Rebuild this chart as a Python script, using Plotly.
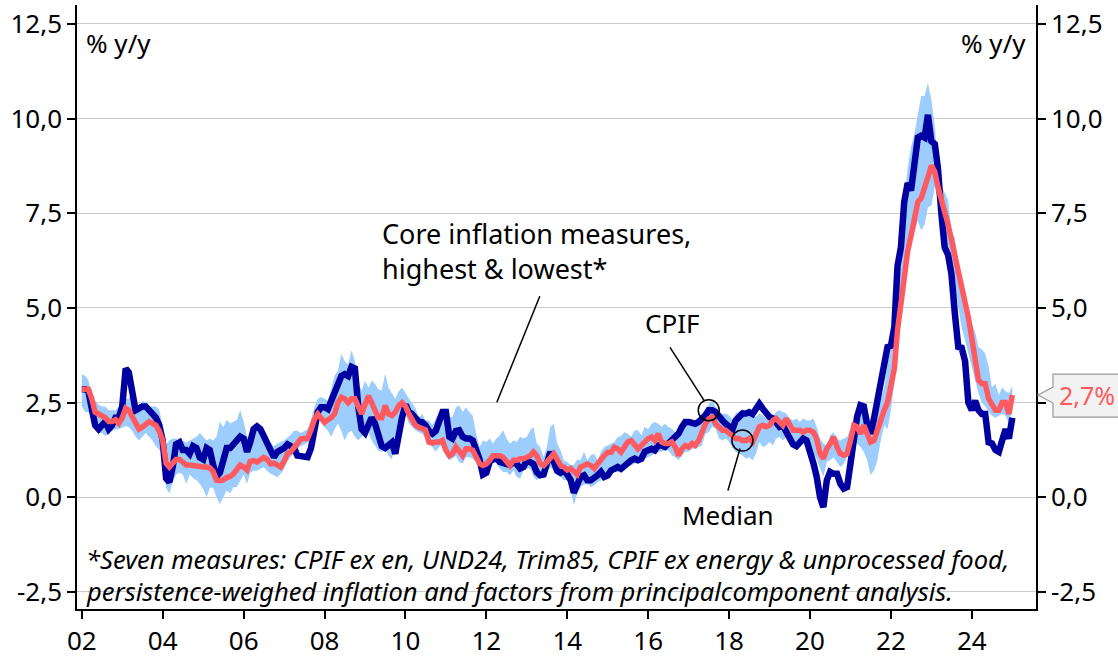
import pandas as pd
import plotly.graph_objects as go

# ---------------- data (monthly, Jan 2002 - Jan 2025, % y/y) ----------------
START = "2002-01-01"

CPIF = [
    2.85, 2.85, 2.8, 2.4, 1.9, 1.8, 1.9, 2.0, 1.8, 1.9, 2.1, 2.1,          # 2002
    2.4, 3.4, 3.3, 2.7, 2.3, 2.35, 2.4, 2.4, 2.3, 2.2, 2.1, 1.9,           # 2003
    1.5, 0.5, 0.4, 0.8, 1.4, 1.45, 1.25, 1.25, 1.15, 1.35, 1.3, 1.05,      # 2004
    1.0, 1.3, 1.25, 0.85, 0.55, 0.65, 1.0, 1.3, 1.3, 1.4, 1.45, 1.6,       # 2005
    1.55, 1.2, 1.45, 1.8, 1.87, 1.8, 1.62, 1.4, 1.2, 1.06, 1.2, 1.23,      # 2006
    1.3, 1.4, 1.35, 1.3, 1.1, 1.1, 1.1, 1.06, 1.3, 1.85, 2.25, 2.38,       # 2007
    2.38, 2.33, 2.55, 2.75, 3.0, 3.2, 3.25, 3.2, 3.44, 3.4, 2.4, 1.8,      # 2008
    1.7, 1.95, 2.1, 1.95, 1.7, 1.35, 1.3, 1.4, 1.45, 1.15, 1.7, 2.1,       # 2009
    2.45, 2.25, 2.2, 2.1, 2.0, 1.98, 1.9, 1.75, 1.68, 1.75, 2.0, 2.25,     # 2010
    2.25, 1.6, 1.55, 1.75, 1.77, 1.6, 1.55, 1.55, 1.5, 1.3, 1.0, 0.6,      # 2011
    0.65, 0.95, 1.0, 1.05, 0.93, 0.9, 0.85, 0.85, 0.93, 0.88, 0.76, 0.8,   # 2012
    0.98, 0.93, 0.88, 0.66, 0.58, 0.6, 0.88, 1.2, 0.95, 0.7, 0.65, 0.7,    # 2013
    0.6, 0.45, 0.12, 0.3, 0.54, 0.58, 0.45, 0.45, 0.5, 0.58, 0.67, 0.54,   # 2014
    0.58, 0.71, 0.75, 0.8, 0.75, 0.84, 0.89, 0.98, 1.02, 0.98, 1.02, 1.2,  # 2015
    1.24, 1.28, 1.24, 1.37, 1.37, 1.33, 1.42, 1.5, 1.55, 1.68, 1.86, 1.99, # 2016
    1.99, 1.94, 1.94, 1.99, 2.07, 2.16, 2.3, 2.3, 2.25, 2.12, 2.03, 1.94,  # 2017
    1.86, 1.8, 2.03, 2.1, 2.21, 2.21, 2.25, 2.2, 2.34, 2.47, 2.34, 2.2,    # 2018
    2.12, 2.08, 1.94, 1.86, 1.9, 1.74, 1.55, 1.4, 1.35, 1.45, 1.55, 1.5,   # 2019
    1.25, 0.9, 0.55, 0.0, -0.26, 0.45, 0.67, 0.62, 0.62, 0.36, 0.23, 0.27, # 2020
    0.89, 1.55, 2.12, 2.43, 2.4, 1.9, 1.68, 2.08, 2.56, 2.8, 3.3, 3.97,    # 2021
    4.0, 4.5, 6.1, 6.6, 7.8, 8.3, 8.1, 9.0, 9.5, 9.55, 9.5, 10.1,          # 2022
    9.4, 9.33, 8.7, 7.5, 6.6, 6.4, 5.9, 4.85, 3.97, 3.95, 3.6, 2.5,        # 2023
    2.3, 2.55, 2.3, 2.2, 2.2, 1.45, 1.42, 1.25, 1.2, 1.5, 1.8, 1.55,       # 2024
    2.1,                                                                   # 2025
]

MEDIAN = [
    2.85, 2.85, 2.85, 2.6, 2.25, 2.2, 2.15, 2.1, 2.0, 2.0, 2.05, 1.95,
    2.1, 2.35, 2.3, 2.15, 1.95, 1.8, 1.85, 1.95, 2.0, 1.95, 1.9, 1.75,
    1.5, 0.9, 0.8, 0.9, 1.0, 1.0, 0.9, 0.85, 0.85, 0.83, 0.83, 0.8,
    0.8, 0.8, 0.78, 0.68, 0.45, 0.44, 0.46, 0.52, 0.55, 0.62, 0.75, 0.85,
    0.8, 0.72, 0.95, 0.97, 0.93, 0.98, 1.05, 1.0, 0.88, 0.9, 0.84, 0.8,
    0.95, 1.15, 1.2, 1.32, 1.4, 1.54, 1.55, 1.55, 1.78, 2.05, 2.2, 2.1,
    1.98, 2.05, 2.1, 2.2, 2.5, 2.64, 2.6, 2.5, 2.6, 2.6, 2.35, 2.2,
    2.45, 2.68, 2.5, 2.3, 2.1, 2.1, 2.42, 2.2, 2.16, 2.25, 2.42, 2.5,
    2.4, 2.2, 2.03, 1.9, 1.85, 1.8, 1.78, 1.46, 1.43, 1.46, 1.46, 1.5,
    1.24, 1.1, 1.15, 1.33, 1.24, 1.1, 1.28, 1.28, 1.24, 1.06, 0.89, 0.84,
    0.88, 0.98, 1.1, 1.1, 1.1, 1.06, 0.93, 0.84, 0.98, 0.98, 1.02, 1.02,
    1.06, 1.1, 1.2, 1.1, 0.89, 0.84, 0.93, 1.02, 1.15, 1.0, 0.84, 0.8,
    0.72, 0.76, 0.7, 0.6, 0.8, 0.84, 0.88, 0.84, 0.76, 0.88, 1.02, 1.1,
    1.19, 1.19, 1.32, 1.28, 1.19, 1.32, 1.46, 1.5, 1.37, 1.28, 1.37, 1.46,
    1.55, 1.59, 1.5, 1.68, 1.46, 1.42, 1.42, 1.46, 1.33, 1.1, 1.28, 1.37,
    1.33, 1.42, 1.37, 1.5, 1.72, 1.94, 2.07, 2.12, 1.94, 1.86, 1.77, 1.77,
    1.68, 1.64, 1.55, 1.55, 1.5, 1.5, 1.55, 1.46, 1.68, 1.86, 1.9, 1.86,
    1.9, 2.03, 2.08, 1.99, 1.9, 2.08, 1.94, 1.77, 1.77, 1.77, 1.72, 1.77,
    1.77, 1.72, 1.55, 1.15, 1.02, 1.28, 1.42, 1.59, 1.33, 1.15, 1.11, 1.15,
    1.5, 1.9, 1.86, 1.68, 1.9, 1.68, 1.46, 1.5, 1.8, 2.1, 2.3, 2.5,
    2.9, 3.4, 4.4, 5.2, 6.0, 6.5, 6.9, 7.3, 7.8, 7.9, 8.15, 8.45,
    8.76, 8.6, 8.2, 7.9, 7.6, 7.2, 6.8, 6.4, 6.0, 5.6, 5.1, 4.75,
    4.2, 3.7, 3.1, 3.0, 3.0, 2.6, 2.45, 2.3, 2.3, 2.5, 2.5, 2.2,
    2.7,
]

CORE_HIGH = [
    3.25, 3.2, 3.1, 2.7, 2.55, 2.45, 2.4, 2.4, 2.3, 2.3, 2.3, 2.4,
    2.6, 2.6, 2.6, 2.8, 2.45, 2.4, 2.55, 2.5, 2.4, 2.4, 2.4, 2.3,
    1.9, 1.4, 1.5, 1.55, 1.55, 1.45, 1.5, 1.45, 1.5, 1.55, 1.6, 1.7,
    1.6, 1.5, 1.55, 1.5, 1.6, 2.0, 1.85, 2.05, 1.95, 2.0, 2.05, 2.3,
    2.0, 1.6, 1.6, 1.9, 1.9, 1.8, 1.7, 1.55, 1.45, 1.35, 1.42, 1.45,
    1.5, 1.58, 1.65, 1.76, 1.76, 1.7, 1.76, 1.8, 2.05, 2.38, 2.6, 2.65,
    2.6, 2.55, 2.85, 3.2, 3.35, 3.79, 3.6, 3.5, 3.88, 3.6, 3.0, 2.82,
    3.08, 2.9, 3.08, 3.0, 2.85, 2.82, 3.26, 2.9, 2.75, 2.6, 2.8, 2.9,
    2.75, 2.6, 2.5, 2.35, 2.1, 2.2, 2.03, 2.03, 1.9, 2.07, 2.25, 2.3,
    2.35, 2.12, 2.12, 2.38, 2.43, 2.25, 2.38, 2.25, 2.15, 1.68, 1.33, 1.5,
    1.46, 1.55, 1.42, 1.55, 1.64, 1.77, 1.55, 1.42, 1.5, 1.46, 1.6, 1.55,
    1.6, 1.77, 1.86, 1.42, 1.33, 1.06, 1.33, 1.86, 1.94, 1.42, 1.24, 0.98,
    0.93, 0.85, 0.85, 1.0, 0.98, 1.2, 0.98, 1.11, 1.15, 0.98, 1.2, 1.33,
    1.37, 1.42, 1.46, 1.59, 1.62, 1.72, 1.68, 1.6, 1.77, 1.77, 1.64, 1.86,
    1.8, 1.94, 1.99, 1.94, 1.86, 1.94, 1.86, 1.81, 1.72, 1.77, 1.99, 2.03,
    1.99, 2.08, 1.99, 2.12, 2.21, 2.34, 2.45, 2.56, 2.4, 2.25, 2.2, 2.21,
    2.16, 2.05, 2.21, 2.25, 2.34, 2.25, 2.3, 2.16, 2.12, 2.21, 2.16, 2.08,
    2.03, 2.12, 2.25, 2.3, 2.25, 2.21, 2.08, 2.03, 2.08, 1.99, 2.08, 2.03,
    2.03, 2.08, 1.86, 1.55, 1.42, 1.37, 1.64, 1.72, 1.55, 1.5, 1.55, 1.59,
    1.81, 1.94, 2.03, 2.21, 2.47, 2.3, 2.03, 2.12, 2.21, 2.6, 2.9, 3.5,
    4.0, 4.7, 6.3, 6.9, 7.9, 8.7, 9.24, 9.6, 10.1, 10.6, 10.6, 10.95,
    10.5, 9.8, 8.8, 8.2, 8.05, 7.85, 7.05, 6.85, 6.25, 5.75, 5.3, 4.95,
    4.6, 4.35, 3.97, 3.9, 3.8, 3.45, 2.9, 3.0, 2.7, 2.9, 2.8, 2.75,
    2.95,
]

CORE_LOW = [
    2.4, 2.25, 2.25, 2.1, 1.8, 1.7, 1.7, 1.62, 1.7, 1.75, 1.8, 1.8,
    1.85, 1.88, 1.85, 1.75, 1.6, 1.5, 1.6, 1.7, 1.6, 1.5, 1.35, 1.25,
    1.15, 0.25, 0.1, 0.4, 0.6, 0.65, 0.6, 0.35, 0.6, 0.5, 0.45, 0.35,
    0.22, 0.0, 0.25, 0.25, 0.0, -0.18, 0.0, 0.18, 0.1, 0.27, 0.27, 0.45,
    0.6, 0.35, 0.65, 0.7, 0.7, 0.75, 0.8, 0.7, 0.62, 0.58, 0.53, 0.62,
    0.75, 0.95, 1.06, 1.15, 1.28, 1.35, 1.4, 1.45, 1.6, 1.9, 2.0, 2.03,
    1.85, 1.76, 1.59, 1.8, 1.95, 1.76, 1.5, 1.7, 1.76, 1.6, 1.5, 1.6,
    1.65, 1.72, 1.5, 1.35, 1.23, 1.2, 1.3, 1.1, 1.0, 1.5, 1.76, 1.9,
    2.2, 1.95, 1.85, 1.77, 1.72, 1.68, 1.55, 1.42, 1.33, 1.2, 1.33, 1.37,
    1.1, 0.98, 1.02, 1.1, 0.93, 0.89, 1.06, 1.06, 1.02, 0.93, 0.76, 0.54,
    0.67, 0.71, 0.93, 0.89, 0.76, 0.67, 0.67, 0.58, 0.71, 0.54, 0.49, 0.71,
    0.76, 0.76, 0.54, 0.45, 0.54, 0.54, 0.67, 0.8, 0.71, 0.58, 0.54, 0.45,
    0.45, 0.2, -0.21, 0.1, 0.27, 0.34, 0.36, 0.27, 0.32, 0.4, 0.45, 0.54,
    0.52, 0.62, 0.67, 0.67, 0.71, 0.76, 0.84, 0.84, 0.89, 0.89, 0.93, 1.02,
    1.06, 1.11, 1.15, 1.2, 1.2, 1.24, 1.24, 1.11, 1.06, 0.98, 1.11, 1.2,
    1.2, 1.28, 1.28, 1.33, 1.37, 1.68, 1.72, 1.86, 1.81, 1.55, 1.5, 1.55,
    1.46, 1.3, 1.2, 1.15, 1.11, 1.02, 1.06, 0.98, 1.15, 1.46, 1.33, 1.37,
    1.46, 1.37, 1.55, 1.59, 1.5, 1.59, 1.55, 1.5, 1.33, 1.33, 1.42, 1.33,
    1.28, 1.15, 1.02, 0.76, 0.54, 0.93, 0.98, 1.06, 0.93, 0.8, 0.89, 1.06,
    1.33, 1.46, 1.42, 1.33, 1.2, 0.98, 0.58, 0.71, 0.98, 1.5, 1.9, 1.8,
    2.3, 3.0, 4.2, 4.9, 5.9, 6.3, 6.7, 7.0, 7.3, 7.05, 7.2, 7.66,
    7.7, 8.2, 7.9, 7.3, 6.6, 6.3, 6.0, 5.55, 5.0, 4.5, 4.15, 3.8,
    3.45, 3.1, 2.75, 2.5, 2.4, 2.25, 2.15, 2.1, 2.15, 2.2, 2.15, 1.95,
    2.3,
]

X_TICK_YEARS = [2002, 2004, 2006, 2008, 2010, 2012, 2014, 2016, 2018, 2020, 2022, 2024]
X_TICK_LABELS = ["02", "04", "06", "08", "10", "12", "14", "16", "18", "20", "22", "24"]
Y_TICKS = [-2.5, 0.0, 2.5, 5.0, 7.5, 10.0, 12.5]
Y_TICK_LABELS = ["-2,5", "0,0", "2,5", "5,0", "7,5", "10,0", "12,5"]
# right axis: the 2,5 label sits under the latest-value callout
Y_TICK_LABELS_RIGHT = ["-2,5", "0,0", "", "5,0", "7,5", "10,0", "12,5"]

CPIF_CIRCLE_IDX = 186     # Jul 2017
MEDIAN_CIRCLE_IDX = 196   # May 2018

FOOTNOTE_1 = "*Seven measures: CPIF ex en, UND24, Trim85, CPIF ex energy & unprocessed food,"
FOOTNOTE_2 = "persistence-weighed inflation and factors from principalcomponent analysis."

# ---------------- style ----------------
FONT = "Noto Sans"
NAVY = "#0000a0"
CORAL = "#ff5a5f"
BAND = "#9ccdfc"
GRID = "#cccccc"

DATES = pd.date_range(START, periods=len(CPIF), freq="MS")


def fy(t):
    """fractional year -> timestamp (for annotation placement)"""
    y = int(t)
    return pd.Timestamp(y, 1, 1) + pd.Timedelta(days=(t - y) * 365.25)


fig = go.Figure()

# band (lowest / highest core measures)
fig.add_trace(go.Scatter(x=DATES, y=CORE_LOW, mode="lines", line=dict(width=0, color=BAND),
                         hoverinfo="skip", showlegend=False))
fig.add_trace(go.Scatter(x=DATES, y=CORE_HIGH, mode="lines", line=dict(width=0, color=BAND),
                         fill="tonexty", fillcolor=BAND, showlegend=False))
# CPIF
fig.add_trace(go.Scatter(x=DATES, y=CPIF, mode="lines", line=dict(width=6.5, color=NAVY),
                         showlegend=False))
# Median (drawn on overlaid right axis -> on top)
fig.add_trace(go.Scatter(x=DATES, y=MEDIAN, mode="lines", line=dict(width=5.5, color=CORAL),
                         yaxis="y2", showlegend=False))
# highlight circles
fig.add_trace(go.Scatter(
    x=[DATES[CPIF_CIRCLE_IDX], DATES[MEDIAN_CIRCLE_IDX]],
    y=[CPIF[CPIF_CIRCLE_IDX], MEDIAN[MEDIAN_CIRCLE_IDX]],
    mode="markers", yaxis="y2",
    marker=dict(symbol="circle-open", size=21, color="black", line=dict(width=1.5)),
    showlegend=False, hoverinfo="skip"))

Y_RANGE = [-2.95, 13.0]
axis_common = dict(range=Y_RANGE, tickmode="array", tickvals=Y_TICKS,
                   showline=True, linecolor="black", linewidth=1.5, ticks="outside",
                   ticklen=8, tickwidth=1.5, tickcolor="black", zeroline=False,
                   automargin=False,
                   tickfont=dict(family=FONT, size=26, color="black"))

fig.update_layout(
    width=1118, height=657,
    margin=dict(l=77, r=82, t=5, b=48, autoexpand=False),
    paper_bgcolor="white", plot_bgcolor="white",
    font=dict(family=FONT, size=26, color="black"),
    xaxis=dict(type="date", range=[fy(2001.88), fy(2025.585)], automargin=False,
               tickmode="array", tickvals=[pd.Timestamp(y, 1, 1) for y in X_TICK_YEARS],
               ticktext=X_TICK_LABELS, showgrid=False, showline=True, linecolor="black",
               linewidth=1.5, ticks="outside", ticklen=8, tickwidth=1.5, tickcolor="black",
               tickfont=dict(family=FONT, size=26, color="black"), zeroline=False),
    yaxis=dict(**axis_common, ticktext=Y_TICK_LABELS, showgrid=True, gridcolor=GRID,
               gridwidth=1, side="left"),
    yaxis2=dict(**axis_common, ticktext=Y_TICK_LABELS_RIGHT, showgrid=False,
                overlaying="y", side="right"),
)

PXY = 1 / 37.87  # value units per pixel (for callout box sizing)

annotations = [
    dict(x=0.0073, y=0.937, xref="paper", yref="paper", text="% y/y", showarrow=False,
         xanchor="left", yanchor="middle", font=dict(size=26)),
    dict(x=0.9916, y=0.937, xref="paper", yref="paper", text="% y/y", showarrow=False,
         xanchor="right", yanchor="middle", font=dict(size=26)),
    dict(x=fy(2009.37), y=6.51, xref="x", yref="y",
         text="Core inflation measures,<br>highest & lowest*", showarrow=False,
         xanchor="left", yanchor="middle", align="left", font=dict(size=27)),
    dict(x=fy(2016.59), y=4.59, xref="x", yref="y", text="CPIF", showarrow=False,
         xanchor="center", yanchor="middle", font=dict(size=26)),
    dict(x=fy(2017.97), y=-0.48, xref="x", yref="y", text="Median", showarrow=False,
         xanchor="center", yanchor="middle", font=dict(size=26)),
    dict(x=0.0073, y=(609 - 559) / 604, xref="paper", yref="paper",
         text=f"<i>{FOOTNOTE_1}</i>", showarrow=False, xanchor="left", yanchor="middle",
         align="left", font=dict(size=25.5)),
    dict(x=0.0073, y=(609 - 591) / 604, xref="paper", yref="paper",
         text=f"<i>{FOOTNOTE_2}</i>", showarrow=False, xanchor="left", yanchor="middle",
         align="left", font=dict(size=25.5)),
    dict(x=1.022, y=MEDIAN[-1], xref="paper", yref="y",
         text=f"{MEDIAN[-1]:.1f}".replace(".", ",") + "%", showarrow=False,
         xanchor="left", yanchor="middle", font=dict(size=25, color=CORAL)),
]

last = MEDIAN[-1]
callout = (f"M 1.0021 {last} L 1.0177 {last + 8 * PXY} L 1.0177 {last + 21 * PXY} "
           f"L 1.095 {last + 21 * PXY} L 1.095 {last - 22 * PXY} L 1.0177 {last - 22 * PXY} "
           f"L 1.0177 {last - 8 * PXY} Z")

shapes = [
    dict(type="line", xref="x", yref="y", x0=fy(2013.32), y0=5.31, x1=fy(2012.26), y1=2.51,
         line=dict(color="black", width=1.5)),
    dict(type="line", xref="x", yref="y", x0=fy(2016.54), y0=3.96, x1=fy(2017.38), y1=2.56,
         line=dict(color="black", width=1.5)),
    dict(type="line", xref="x", yref="y", x0=fy(2018.27), y0=1.29, x1=fy(2017.97), y1=0.18,
         line=dict(color="black", width=1.5)),
    dict(type="path", xref="paper", yref="y", path=callout, fillcolor="#f2f2f2",
         line=dict(color="#999999", width=1.2), layer="above"),
]

fig.update_layout(annotations=annotations, shapes=shapes)

fig.write_html("out.html", config={"displayModeBar": False},
               post_script="document.body.style.margin='0';document.body.style.padding='0';")
